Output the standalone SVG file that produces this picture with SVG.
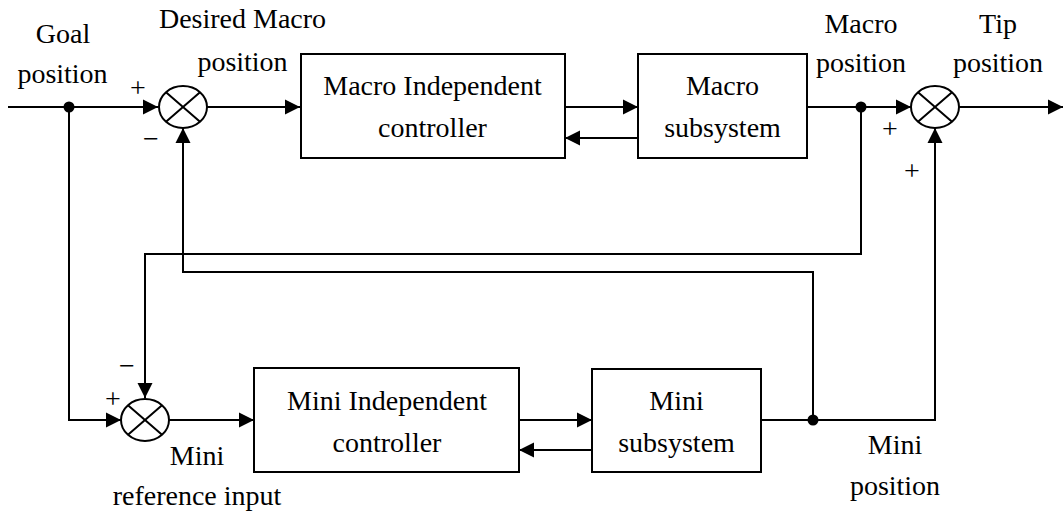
<svg xmlns="http://www.w3.org/2000/svg" width="1064" height="515" viewBox="0 0 1064 515">
<style>
text{font-family:'Times New Roman','Liberation Serif',Tinos,'DejaVu Serif',serif;font-size:28px;fill:#000;text-anchor:middle}
.sg{font-size:28px}
.box{fill:#fff;stroke:#000;stroke-width:2}
.sum{fill:#fff;stroke:#000;stroke-width:2}
.ln{fill:none;stroke:#000;stroke-width:2}
.ar{fill:none;stroke:#000;stroke-width:2;marker-end:url(#ah)}
.dot{fill:#000}
</style>
<defs>
<marker id="ah" markerUnits="userSpaceOnUse" markerWidth="16" markerHeight="16" viewBox="0 0 16 16" refX="15" refY="8" orient="auto">
<path d="M0,0.5 L15,8 L0,15.5 Z" fill="#000"/>
</marker>
</defs>
<rect width="1064" height="515" fill="#fff"/>
<g id="connectors">
<path class="ar" d="M8,107 H158"/>
<path class="ar" d="M207,107 H300"/>
<path class="ar" d="M565,107 H638"/>
<path class="ar" d="M638,138 H565"/>
<path class="ar" d="M807,107 H911"/>
<path class="ar" d="M959,107 H1063"/>
<path class="ar" d="M861,107 V254 H145 V398"/>
<path class="ar" d="M69,107 V420 H121"/>
<path class="ar" d="M169,420 H254"/>
<path class="ar" d="M519,420 H592"/>
<path class="ar" d="M592,450 H519"/>
<path class="ar" d="M761,420 H935 V128"/>
<path class="ar" d="M813,420 V272 H183 V128"/>
<circle class="dot" cx="69" cy="107" r="5.5"/>
<circle class="dot" cx="861" cy="107" r="5.5"/>
<circle class="dot" cx="813" cy="420" r="5.5"/>
</g>
<g id="sum1">
<ellipse class="sum" cx="183" cy="107" rx="24" ry="21"/>
<path class="ln" d="M166,92.2 L200,121.8 M200,92.2 L166,121.8"/>
<text class="sg" x="138" y="97">+</text>
<text class="sg" x="151" y="148">−</text>
</g>
<g id="sum2">
<ellipse class="sum" cx="145" cy="420" rx="24" ry="21"/>
<path class="ln" d="M128,405.2 L162,434.8 M162,405.2 L128,434.8"/>
<text class="sg" x="113" y="408">+</text>
<text class="sg" x="127" y="375">−</text>
</g>
<g id="sum3">
<ellipse class="sum" cx="935" cy="107" rx="24" ry="21"/>
<path class="ln" d="M918,92.2 L952,121.8 M952,92.2 L918,121.8"/>
<text class="sg" x="890" y="138">+</text>
<text class="sg" x="912" y="180">+</text>
</g>
<g id="macro-controller">
<rect class="box" x="301" y="54" width="264" height="104"/>
<text x="432.5" y="95">Macro Independent</text>
<text x="432.5" y="137">controller</text>
</g>
<g id="macro-subsystem">
<rect class="box" x="638" y="54" width="169" height="104"/>
<text x="722.5" y="95">Macro</text>
<text x="722.5" y="137">subsystem</text>
</g>
<g id="mini-controller">
<rect class="box" x="254" y="368" width="265" height="104"/>
<text x="387" y="410">Mini Independent</text>
<text x="387" y="452">controller</text>
</g>
<g id="mini-subsystem">
<rect class="box" x="592" y="369" width="169" height="103"/>
<text x="676.5" y="410">Mini</text>
<text x="676.5" y="452">subsystem</text>
</g>
<g id="labels">
<text x="63" y="43">Goal</text>
<text x="62.5" y="83">position</text>
<text x="242.5" y="28">Desired Macro</text>
<text x="242.5" y="71">position</text>
<text x="861" y="33">Macro</text>
<text x="861" y="72">position</text>
<text x="998" y="33">Tip</text>
<text x="998" y="72">position</text>
<text x="197" y="465">Mini</text>
<text x="197" y="505">reference input</text>
<text x="895" y="454">Mini</text>
<text x="895" y="495">position</text>
</g>
</svg>
